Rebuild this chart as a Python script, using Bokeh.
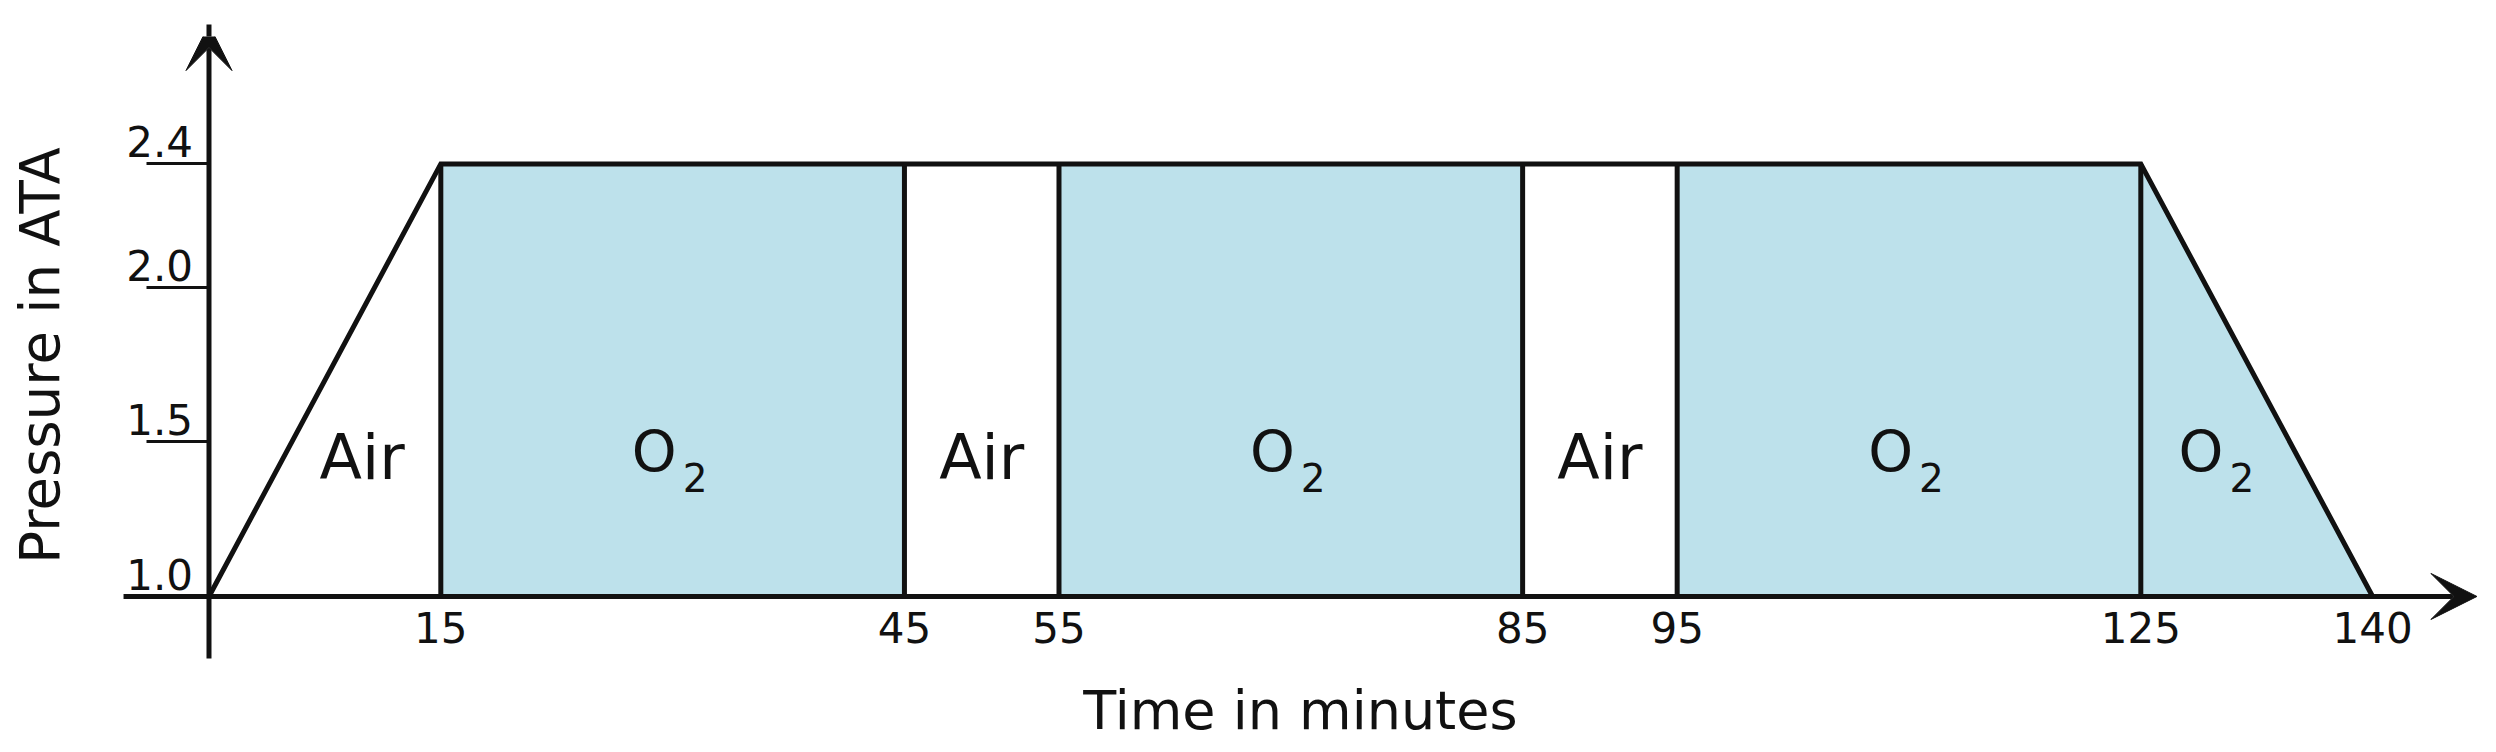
from bokeh.plotting import figure
from bokeh.models import Range1d, LinearAxis, FixedTicker, Arrow, VeeHead, NumeralTickFormatter
from bokeh.embed import file_html
from bokeh.resources import INLINE
from bokeh.core.properties import value

# ---------------- data ----------------
times = [0, 15, 45, 55, 85, 95, 125, 140]              # minutes
pressure = [1.0, 2.4, 2.4, 2.4, 2.4, 2.4, 2.4, 1.0]    # ATA
phase_gas = ["Air", "O₂", "Air", "O₂", "Air", "O₂", "O₂"]
x_ticks = [15, 45, 55, 85, 95, 125, 140]
y_ticks = [1.0, 1.5, 2.0, 2.4]
x_title = "Time in minutes"
y_title = "Pressure in ATA"

# ---------------- style ----------------
FONT = "DejaVu Sans"
INK = "#111111"
O2_FILL = "#bde1eb"
GAS_FILL = {"O₂": O2_FILL, "Air": "#ffffff"}
# how each gas name is typeset: (main text, subscript)
GAS_TYPESET = {"Air": ("Air", ""), "O₂": ("O", "2")}
LABEL_LEVEL = 1.45          # pressure level at which phase labels sit
LABEL_SHIFT = 0.072         # y tick labels sit just above their tick line

X_START, X_END = -5.726, 146.98
Y_START, Y_END = 0.7474, 2.8125

p = figure(width=2480, height=744, output_backend="svg", toolbar_location=None,
           x_range=Range1d(X_START, X_END), y_range=Range1d(Y_START, Y_END),
           x_axis_location=None, y_axis_location=None,
           min_border_left=120, min_border_right=0, min_border_top=36,
           min_border_bottom=67,
           outline_line_color=None, background_fill_color="white",
           border_fill_color="white")
p.grid.visible = False

base = pressure[0]

# phase polygons and label anchor points
xs, ys, fills = [], [], []
plain_x, plain_y, plain_t = [], [], []
main_x, main_y, main_t, sub_t = [], [], [], []
for i, gas in enumerate(phase_gas):
    t0, t1 = times[i], times[i + 1]
    p0, p1 = pressure[i], pressure[i + 1]
    xs.append([t0, t0, t1, t1])
    ys.append([base, p0, p1, base])
    fills.append(GAS_FILL[gas])
    if p0 == p1:
        left, right = t0, t1
    else:
        xc = t0 + (LABEL_LEVEL - p0) / (p1 - p0) * (t1 - t0)
        left, right = (xc, t1) if p1 > p0 else (t0, xc)
    cx = (left + right) / 2
    main, sub = GAS_TYPESET[gas]
    if sub:
        main_x.append(cx); main_y.append(LABEL_LEVEL); main_t.append(main); sub_t.append(sub)
    else:
        plain_x.append(cx); plain_y.append(LABEL_LEVEL); plain_t.append(main)

p.patches(xs, ys, fill_color=fills, line_color=None)

# separators between phases
inner_t = times[1:-1]
p.segment(x0=inner_t, y0=[base] * len(inner_t), x1=inner_t, y1=pressure[1:-1],
          line_color=INK, line_width=5)

# pressure profile
p.line(times, pressure, line_color=INK, line_width=5, line_join="miter")

# phase labels
p.text(x=plain_x, y=plain_y, text=plain_t, text_align="center", text_baseline="middle",
       text_font=value(FONT), text_font_size="62px", text_color=INK)
p.text(x=main_x, y=main_y, text=main_t, text_align="right", text_baseline="middle",
       x_offset=4, y_offset=-5,
       text_font=value(FONT), text_font_size="57px", text_color=INK)
p.text(x=main_x, y=main_y, text=sub_t, text_align="left", text_baseline="middle",
       x_offset=10, y_offset=20,
       text_font=value(FONT), text_font_size="39px", text_color=INK)

# ---------------- axes ----------------
# tick labels of the time axis, on the line p = 1.0
xaxis = LinearAxis(fixed_location=base, ticker=FixedTicker(ticks=x_ticks),
                   axis_line_color=None, major_tick_line_color=None,
                   minor_tick_line_color=None,
                   major_label_text_font=FONT, major_label_text_font_size="42px",
                   major_label_text_color=INK, major_label_standoff=10)
p.add_layout(xaxis, "below")

# title of the time axis, below the plot area
xtitle_axis = LinearAxis(ticker=FixedTicker(ticks=[]), axis_line_color=None,
                         major_tick_out=0, major_tick_in=0, minor_tick_out=0,
                         major_label_text_font_size="0px",
                         axis_label=x_title, axis_label_text_font=FONT,
                         axis_label_text_font_size="54px",
                         axis_label_text_font_style="normal",
                         axis_label_text_color=INK, axis_label_standoff=4)
p.add_layout(xtitle_axis, "below")

# tick lines of the pressure axis
ytick_axis = LinearAxis(fixed_location=0, ticker=FixedTicker(ticks=y_ticks),
                        axis_line_color=None, minor_tick_line_color=None,
                        major_tick_line_color=INK, major_tick_line_width=3,
                        major_tick_out=62, major_tick_in=0,
                        major_label_text_alpha=0, major_label_text_font_size="1px")
p.add_layout(ytick_axis, "left")

# tick labels of the pressure axis, placed just above each tick line
p.extra_y_ranges = {"ylabels": Range1d(Y_START - LABEL_SHIFT, Y_END - LABEL_SHIFT)}
ylabel_axis = LinearAxis(fixed_location=0, y_range_name="ylabels",
                         ticker=FixedTicker(ticks=y_ticks),
                         formatter=NumeralTickFormatter(format="0.0"),
                         axis_line_color=None, minor_tick_line_color=None,
                         major_tick_line_color=None, major_tick_out=0, major_tick_in=0,
                         major_label_text_font=FONT, major_label_text_font_size="42px",
                         major_label_text_color=INK, major_label_standoff=16)
p.add_layout(ylabel_axis, "left")

# title of the pressure axis, left of the plot area
ytitle_axis = LinearAxis(ticker=FixedTicker(ticks=[]), axis_line_color=None,
                         major_tick_out=0, major_tick_in=0, minor_tick_out=0,
                         major_label_text_font_size="0px",
                         axis_label=y_title, axis_label_text_font=FONT,
                         axis_label_text_font_size="54.5px",
                         axis_label_text_font_style="normal",
                         axis_label_text_color=INK, axis_label_standoff=49)
p.add_layout(ytitle_axis, "left")

# axis lines with arrow heads
p.add_layout(Arrow(end=VeeHead(size=46, fill_color=INK, line_color=INK),
                   x_start=-5.53, y_start=base, x_end=146.75, y_end=base,
                   line_color=INK, line_width=5))
p.add_layout(Arrow(end=VeeHead(size=46, fill_color=INK, line_color=INK),
                   x_start=0, y_start=0.799, x_end=0, y_end=2.851,
                   line_color=INK, line_width=5))

open("out.html", "w").write(file_html(p, INLINE))
